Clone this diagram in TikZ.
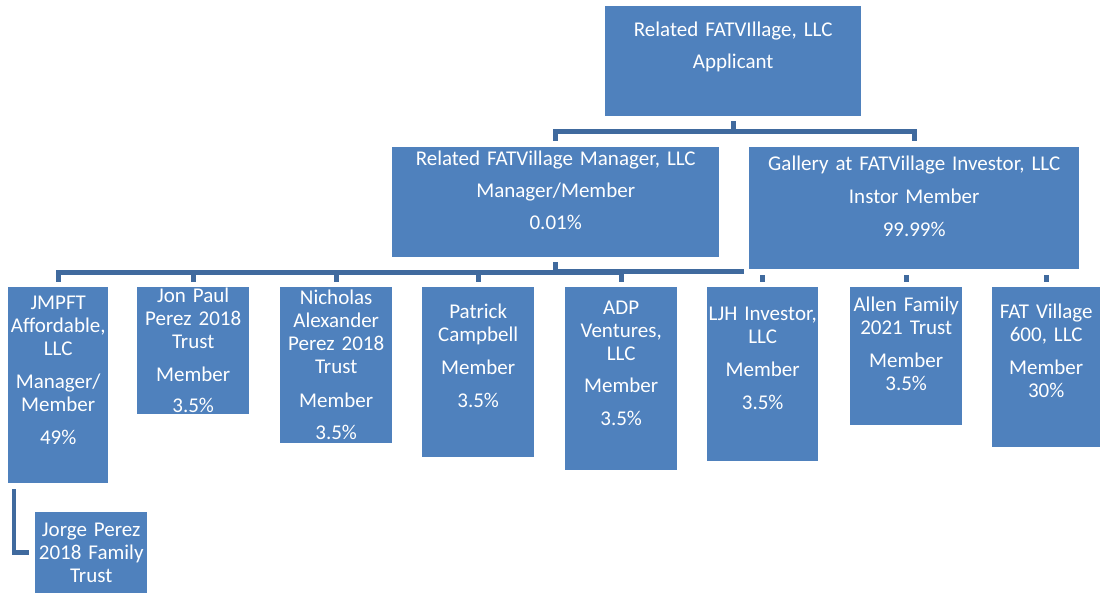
\documentclass[tikz,border=0pt]{standalone}
\usepackage{fontspec}
\setmainfont{Carlito}
\usepackage{xcolor}
\usetikzlibrary{positioning}
\definecolor{boxblue}{RGB}{79,129,189}
\definecolor{linkblue}{RGB}{64,106,158}

\begin{document}
\begin{tikzpicture}[x=1pt,y=-1pt,
        box/.style={fill=boxblue,text=white,inner sep=0pt,anchor=north west,
            align=center,font=\fontsize{21}{23}\selectfont},
        link/.style={draw=linkblue,line width=5pt}]
            \useasboundingbox (0,0) rectangle (1100,593);
            % Top level
            \node[box,text width=256pt,text height=30pt,text depth=80pt] (related) at (605,6)
                {Related FATVIllage, LLC\\[9pt]Applicant};
            \node[box,text width=327pt,text height=18pt,text depth=92pt] (manager) at (392,147)
                {Related FATVillage Manager, LLC\\[9pt]Manager/Member\\[9pt]0.01\%};
            \node[box,text width=330pt,text height=23pt,text depth=99pt] (gallery) at (749,147)
                {Gallery at FATVillage Investor, LLC\\[10pt]Instor Member\\[10pt]99.99\%};
            % Members
            \node[box,text width=100pt,text height=22pt,text depth=174pt] (jmpft) at (8,287)
                {JMPFT\\Affordable,\\LLC\\[10pt]Manager/\\Member\\[10pt]49\%};
            \node[box,text width=112pt,text height=15pt,text depth=112pt] (jonpaul) at (137,287)
                {Jon Paul\\Perez 2018\\Trust\\[10pt]Member\\[8pt]3.5\%};
            \node[box,text width=112pt,text height=17pt,text depth=139pt] (nicholas) at (280,287)
                {Nicholas\\Alexander\\Perez 2018\\Trust\\[11pt]Member\\[9pt]3.5\%};
            \node[box,text width=112pt,text height=31pt,text depth=139pt] (patrick) at (422,287)
                {Patrick\\Campbell\\[10pt]Member\\[10pt]3.5\%};
            \node[box,text width=112pt,text height=27pt,text depth=156pt] (adp) at (565,287)
                {ADP\\Ventures,\\LLC\\[9pt]Member\\[10pt]3.5\%};
            \node[box,text width=111pt,text height=33pt,text depth=141pt] (ljh) at (707,287)
                {LJH Investor,\\LLC\\[10pt]Member\\[10pt]3.5\%};
            \node[box,text width=112pt,text height=24pt,text depth=114pt] (allen) at (850,287)
                {Allen Family\\2021 Trust\\[10pt]Member\\3.5\%};
            \node[box,text width=108pt,text height=31pt,text depth=129pt] (fatvillage) at (992,287)
                {FAT Village\\600, LLC\\[10pt]Member\\30\%};
            \node[box,text width=112pt,text height=24pt,text depth=57pt] (jorge) at (35,512)
                {Jorge Perez\\2018 Family\\Trust};
            % Links
            \foreach \n in {manager,gallery}
                \draw[link,shorten <=5pt,shorten >=6pt] (related.south) -- ++(0,15.5) -| (\n.north);
            \foreach \n in {jmpft,jonpaul,nicholas,patrick,adp}
                \draw[link,shorten <=5pt,shorten >=5pt] (manager.south) -- ++(0,15) -| (\n.north);
            \coordinate (busend) at (744,272);
            \draw[link] (manager.south |- busend) -- (busend);
            \foreach \n in {ljh,allen,fatvillage}
                \draw[link,shorten <=6pt,shorten >=5pt] (gallery.south -| \n.north) -- (\n.north);
            \draw[link,line width=4.5pt,shorten <=6pt,shorten >=6pt] ([xshift=6pt]jmpft.south west) |- (jorge.west);
\end{tikzpicture}
\end{document}
